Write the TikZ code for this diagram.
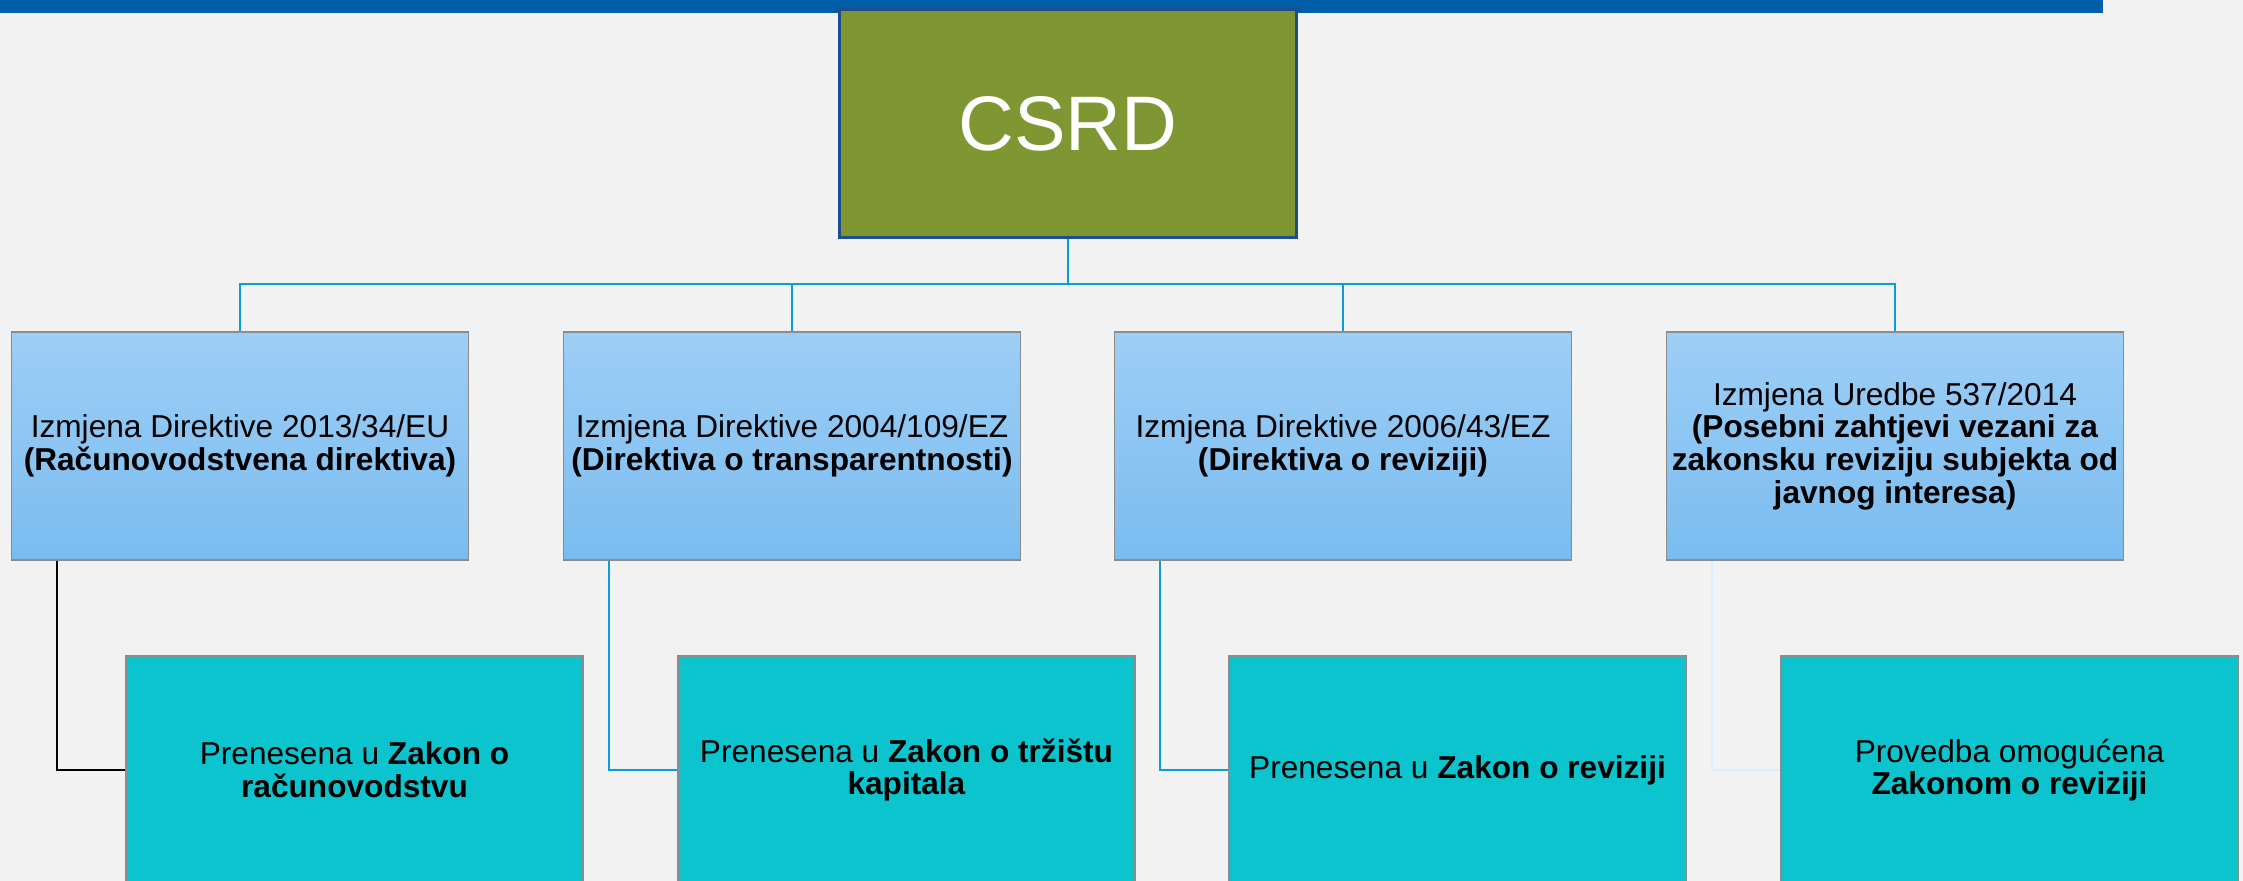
\documentclass[tikz,border=0pt]{standalone}
\usepackage{fontspec}
\setmainfont{Liberation Sans}
\usepackage{xcolor}
\usepackage{tikz}
\usetikzlibrary{calc}

\definecolor{barblue}{HTML}{005EA8}
\definecolor{csrdgreen}{HTML}{7F9733}
\definecolor{csrdline}{HTML}{1F4E8C}
\definecolor{dirtop}{HTML}{9DCEF6}
\definecolor{dirbot}{HTML}{7ABCEF}
\definecolor{lawteal}{HTML}{0CC4CD}
\definecolor{linkblue}{HTML}{0A9DD9}
\definecolor{linkpale}{HTML}{DCEEF9}
\definecolor{bggray}{HTML}{F2F2F2}

\tikzset{
  box/.style={minimum width=4.57cm, minimum height=2.28cm, inner sep=0.5pt,
    align=center, font=\fontsize{9}{9.3}\selectfont, draw=gray!90, line width=0.4pt},
  csrdbox/.style={box, fill=csrdgreen, draw=csrdline, line width=1pt,
    text=white, font=\fontsize{22}{26}\selectfont},
  dirbox/.style={box, top color=dirtop, bottom color=dirbot},
  lawbox/.style={box, fill=lawteal},
  link/.style={draw=linkblue, line width=0.6pt},
}

\begin{document}
\begin{tikzpicture}
    \useasboundingbox (0,0) rectangle (22.43,-8.81);
    \clip (0,0) rectangle (22.43,-8.81);
    \fill[bggray] (0,0) rectangle (22.43,-8.81);
    \fill[barblue] (0,0) rectangle (21.03,-0.13);

    \node[csrdbox] (csrd) at (10.68,-1.236) {CSRD};

    \node[dirbox] (d1) at (2.40,-4.46) {Izmjena Direktive 2013/34/EU\\\textbf{(Računovodstvena direktiva)}};
    \node[dirbox] (d2) at (7.92,-4.46) {Izmjena Direktive 2004/109/EZ\\\textbf{(Direktiva o transparentnosti)}};
    \node[dirbox] (d3) at (13.43,-4.46) {Izmjena Direktive 2006/43/EZ\\\textbf{(Direktiva o reviziji)}};
    \node[dirbox] (d4) at (18.95,-4.46) {Izmjena Uredbe 537/2014\\\textbf{(Posebni zahtjevi vezani za}\\\textbf{zakonsku reviziju subjekta od}\\\textbf{javnog interesa)}};

    \node[lawbox] (z1) at (3.545,-7.70) {Prenesena u \textbf{Zakon o}\\\textbf{računovodstvu}};
    \node[lawbox] (z2) at (9.065,-7.70) {Prenesena u \textbf{Zakon o tržištu}\\\textbf{kapitala}};
    \node[lawbox] (z3) at (14.575,-7.70) {Prenesena u \textbf{Zakon o reviziji}};
    \node[lawbox] (z4) at (20.095,-7.70) {Provedba omogućena\\\textbf{Zakonom o reviziji}};

    \coordinate (hub) at (10.68,-2.84);
    \draw[link] (csrd.south) -- (hub);
    \draw[link] (hub) -| (d1.north);
    \draw[link] (hub) -| (d2.north);
    \draw[link] (hub) -| (d3.north);
    \draw[link] (hub) -| (d4.north);

    \draw[black, line width=0.6pt] ([xshift=0.46cm]d1.south west) |- (z1.west);
    \draw[link] ([xshift=0.46cm]d2.south west) |- (z2.west);
    \draw[link] ([xshift=0.46cm]d3.south west) |- (z3.west);
    \draw[link, draw=linkpale] ([xshift=0.46cm]d4.south west) |- (z4.west);
  \end{tikzpicture}
\end{document}
